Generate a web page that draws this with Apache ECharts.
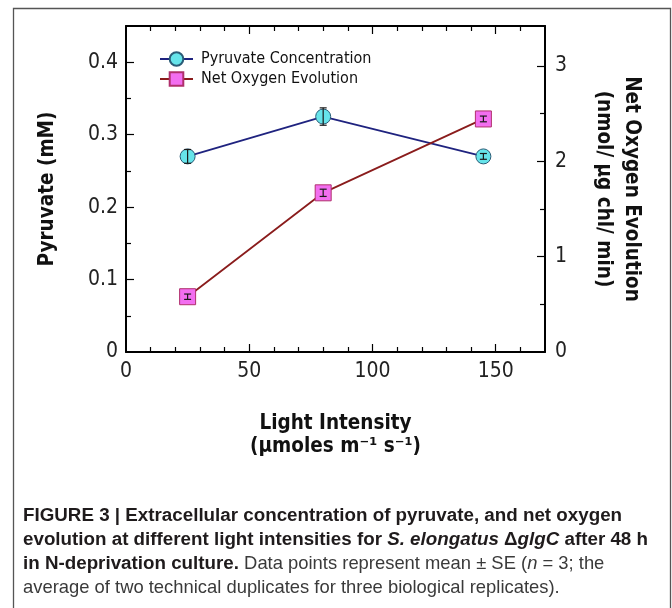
<!DOCTYPE html>
<html>
<head>
<meta charset="utf-8">
<script src="https://cdn.jsdelivr.net/npm/echarts@6/dist/echarts.min.js"></script>
<style>
  html, body { margin: 0; padding: 0; background: #fff; }
  #main { width: 672px; height: 608px; }
</style>
</head>
<body>
<div id="main"></div>
<script>
var lightIntensity = [25, 80, 145];
var pyruvate = [0.27, 0.325, 0.27];
var pyruvateErr = [0.0095, 0.012, 0.004];
var oxygen = [0.58, 1.67, 2.445];
var oxygenErr = [0.028, 0.038, 0.03];

var xMajor = [0, 50, 100, 150];
var xMinor = [10, 20, 30, 40, 60, 70, 80, 90, 110, 120, 130, 140, 160];
var leftMajor = [0, 0.1, 0.2, 0.3, 0.4];
var leftMinor = [0.05, 0.15, 0.25, 0.35];
var rightMajor = [0, 1, 2, 3];
var rightMinor = [0.5, 1.5, 2.5];

var tickFont = "'DejaVu Sans Condensed', 'DejaVu Sans', sans-serif";
var capFont = "'Liberation Sans', Arial, sans-serif";

var myChart = echarts.init(document.getElementById('main'));

function pairs(xs, ys) {
    return xs.map(function (x, i) { return [x, ys[i]]; });
}
function errData(xs, ys, es) {
    return xs.map(function (x, i) { return [x, ys[i], es[i]]; });
}

function errorBar(params, api) {
    var x = api.value(0), y = api.value(1), e = api.value(2);
    var lo = api.coord([x, y - e]);
    var hi = api.coord([x, y + e]);
    var w = 3.5;
    var st = { stroke: '#1a1a1a', lineWidth: 1.2 };
    return {
        type: 'group',
        children: [
            { type: 'line', shape: { x1: lo[0], y1: lo[1], x2: hi[0], y2: hi[1] }, style: st },
            { type: 'line', shape: { x1: lo[0] - w, y1: lo[1], x2: lo[0] + w, y2: lo[1] }, style: st },
            { type: 'line', shape: { x1: hi[0] - w, y1: hi[1], x2: hi[0] + w, y2: hi[1] }, style: st }
        ]
    };
}

function tickAxis(pos, min, max, values, len, showLine) {
    return {
        type: 'value', position: pos, min: min, max: max,
        axisLine: { show: showLine, onZero: false, lineStyle: { color: '#000', width: 2 } },
        axisTick: { show: true, inside: true, length: len, customValues: values, lineStyle: { color: '#000', width: 1.2 } },
        axisLabel: { show: false },
        splitLine: { show: false }
    };
}

var titleStyle = { fontSize: 20.5, fontWeight: 'bold', color: '#111', fontFamily: tickFont };

var xMain = tickAxis('bottom', 0, 170, xMajor.slice(1), 8, true);
xMain.axisLabel = { show: true, customValues: xMajor, margin: 9, color: '#222', fontSize: 21, fontFamily: tickFont };
xMain.name = 'Light Intensity\n(μmoles m⁻¹ s⁻¹)';
xMain.nameLocation = 'middle';
xMain.nameGap = 60;
xMain.nameTextStyle = Object.assign({ lineHeight: 23 }, titleStyle);

var yLeft = tickAxis('left', 0, 0.45, leftMajor.slice(1), 8, true);
yLeft.axisLabel = { show: true, customValues: leftMajor, margin: 8, color: '#222', fontSize: 21, fontFamily: tickFont };
yLeft.name = 'Pyruvate (mM)';
yLeft.nameLocation = 'middle';
yLeft.nameGap = 68;
yLeft.nameTextStyle = titleStyle;

var yRight = tickAxis('right', 0, 3.42, rightMajor.slice(1), 8, true);
yRight.axisLabel = { show: true, customValues: rightMajor, margin: 10, color: '#222', fontSize: 21, fontFamily: tickFont };
yRight.name = 'Net Oxygen Evolution\n(nmol/ μg chl/ min)';
yRight.nameLocation = 'middle';
yRight.nameRotate = -90;
yRight.nameGap = 44;
yRight.nameTextStyle = Object.assign({ lineHeight: 28 }, titleStyle);

var option = {
    backgroundColor: '#fff',
    animation: false,
    grid: { left: 126, right: 127, top: 26, bottom: 256, containLabel: false },
    legend: {
        left: 159,
        top: 51,
        padding: 0,
        orient: 'vertical',
        itemWidth: 33,
        itemHeight: 17,
        itemGap: 4,
        data: ['Pyruvate Concentration', 'Net Oxygen Evolution'],
        textStyle: { fontSize: 16, color: '#111', fontFamily: tickFont, padding: [0, 0, 0, 3] }
    },
    xAxis: [
        xMain,
        tickAxis('bottom', 0, 170, xMinor, 5, false),
        tickAxis('top', 0, 170, xMajor.slice(1), 8, true),
        tickAxis('top', 0, 170, xMinor, 5, false)
    ],
    yAxis: [
        yLeft,
        yRight,
        tickAxis('left', 0, 0.45, leftMinor, 5, false),
        tickAxis('right', 0, 3.42, rightMinor, 5, false)
    ],
    series: [
        {
            name: 'Pyruvate Concentration',
            type: 'line',
            xAxisIndex: 0,
            yAxisIndex: 0,
            data: pairs(lightIntensity, pyruvate),
            symbol: 'circle',
            symbolSize: 15,
            lineStyle: { color: '#1f237f', width: 1.8 },
            itemStyle: { color: '#66e4ea', borderColor: '#2b5c77', borderWidth: 1 },
            z: 3
        },
        {
            name: 'Net Oxygen Evolution',
            type: 'line',
            xAxisIndex: 0,
            yAxisIndex: 1,
            data: pairs(lightIntensity, oxygen),
            symbol: 'rect',
            symbolSize: 16,
            lineStyle: { color: '#8a1c1c', width: 1.8 },
            itemStyle: { color: '#f26ef0', borderColor: '#b0306c', borderWidth: 1 },
            z: 3
        },
        {
            name: 'pyrErr',
            type: 'custom',
            xAxisIndex: 0,
            yAxisIndex: 0,
            data: errData(lightIntensity, pyruvate, pyruvateErr),
            renderItem: errorBar,
            z: 5
        },
        {
            name: 'oxyErr',
            type: 'custom',
            xAxisIndex: 0,
            yAxisIndex: 1,
            data: errData(lightIntensity, oxygen, oxygenErr),
            renderItem: errorBar,
            z: 5
        }
    ],
    graphic: [
        {
            type: 'polyline',
            shape: { points: [[13.5, 620], [13.5, 8.5], [670.5, 8.5], [670.5, 620]] },
            style: { stroke: '#555', lineWidth: 1.3, fill: null }
        },
        {
            type: 'text',
            left: 23,
            top: 506,
            style: {
                text: '{b|FIGURE 3 | Extracellular concentration of pyruvate, and net oxygen}\n' +
                      '{b|evolution at different light intensities for }{bi|S. elongatus}{b| Δ}{bi|glgC}{b| after 48 h}\n' +
                      '{b|in N-deprivation culture.}{r| Data points represent mean ± SE (}{ri|n}{r| = 3; the}\n' +
                      '{r|average of two technical duplicates for three biological replicates).}',
                rich: {
                    b: { fontFamily: capFont, fontSize: 18.8, fontWeight: 'bold', fill: '#1f1b1c', lineHeight: 24 },
                    bi: { fontFamily: capFont, fontSize: 18.8, fontWeight: 'bold', fontStyle: 'italic', fill: '#1f1b1c', lineHeight: 24 },
                    r: { fontFamily: capFont, fontSize: 18.4, fill: '#3a3a3a', lineHeight: 24 },
                    ri: { fontFamily: capFont, fontSize: 18.4, fontStyle: 'italic', fill: '#3a3a3a', lineHeight: 24 }
                }
            }
        }
    ]
};

myChart.setOption(option);
</script>
</body>
</html>
